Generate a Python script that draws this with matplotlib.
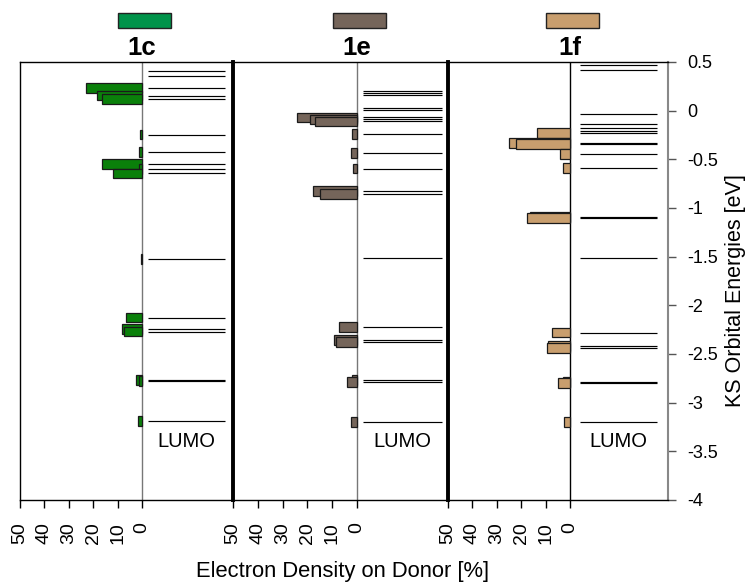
import matplotlib
matplotlib.use("Agg")
import matplotlib.pyplot as plt
from matplotlib.patches import Rectangle

plt.rcParams['font.family'] = ['Liberation Sans', 'DejaVu Sans']

# ---------------- data ----------------
panel_names = ["1c", "1e", "1f"]
bar_colors = ["#0a800a", "#75655a", "#c89e6e"]
box_colors = ["#00934a", "#75655a", "#c89e6e"]

levels_1c = [0.41, 0.36, 0.23, 0.155, 0.12, -0.245, -0.425, -0.545, -0.60, -0.645,
             -1.527, -2.125, -2.24, -2.27, -2.765, -2.78, -3.19]
dens_1c = [0, 0, 23.0, 18.4, 16.4, 1.0, 1.1, 16.4, 1.1, 11.8,
           0.4, 6.7, 8.1, 7.3, 2.5, 1.1, 1.5]

levels_1e = [0.205, 0.185, 0.16, 0.025, 0.003, -0.07, -0.09, -0.11, -0.237, -0.435,
             -0.595, -0.822, -0.855, -1.517, -2.225, -2.355, -2.38, -2.77, -2.79, -3.195]
dens_1e = [0, 0, 0, 0, 0, 24.3, 18.8, 16.8, 1.9, 2.3,
           1.5, 17.6, 14.8, 0, 7.4, 9.3, 8.5, 2.1, 4.0, 2.4]

levels_1f = [0.473, 0.418, -0.034, -0.137, -0.18, -0.205, -0.23, -0.33, -0.345, -0.442,
             -0.59, -1.09, -1.10, -1.51, -2.28, -2.42, -2.437, -2.785, -2.80, -3.195]
dens_1f = [0, 0, 0, 0, 0, 0, 13.7, 25.1, 22.1, 4.0,
           2.7, 16.4, 17.7, 0, 7.5, 9.0, 9.4, 2.7, 4.8, 2.3]

x_ticks = [50, 40, 30, 20, 10, 0]
y_ticks = [0.5, 0, -0.5, -1, -1.5, -2, -2.5, -3, -3.5, -4]
y_ticklabels = ["0.5", "0", "-0.5", "-1", "-1.5", "-2", "-2.5", "-3", "-3.5", "-4"]

all_levels = [levels_1c, levels_1e, levels_1f]
all_dens = [dens_1c, dens_1e, dens_1f]

# ---------------- layout (pixel based) ----------------
W, H = 750, 584
fig = plt.figure(figsize=(W / 100, H / 100), dpi=100)

ax_bottom_px, ax_top_px = 500, 62
# (left px, zero px, right px)
panels_px = [(20, 142, 233), (233, 357, 448), (448, 570, 668)]
line_spans = [(-2.5, -34.0), (-2.5, -34.3), (-4.0, -35.5)]

axes = []
for i, (lp, zp, rp) in enumerate(panels_px):
    scale = (zp - lp) / 50.0
    ax = fig.add_axes([lp / W, 1 - ax_bottom_px / H, (rp - lp) / W,
                       (ax_bottom_px - ax_top_px) / H])
    ax.set_xlim(50, -(rp - zp) / scale)
    ax.set_ylim(-4, 0.5)
    ax.patch.set_alpha(0)
    axes.append(ax)

    levels = all_levels[i]
    dens = all_dens[i]
    # zero line
    ax.axvline(0, color="#777777" if i < 2 else "#000000", lw=1.0, zorder=1)
    # bars
    bl = [l for l, d in zip(levels, dens) if d > 0]
    bd = [d for d in dens if d > 0]
    ax.barh(bl, bd, height=0.1, left=0, color=bar_colors[i],
            edgecolor="#1a1a1a", linewidth=0.9, zorder=2)
    # level lines
    x0, x1 = line_spans[i]
    ax.hlines(levels, x0, x1, color="#000000", lw=0.85, zorder=2)
    ax.text((x0 + x1) / 2, -3.40, "LUMO", ha="center", va="center", fontsize=14.5)

    # x ticks
    ax.set_xticks(x_ticks)
    ax.set_xticklabels([str(t) for t in x_ticks], rotation=90, fontsize=14)
    ax.tick_params(axis="x", direction="out", length=6, width=1, pad=10)
    ax.set_yticks([])

    for s in ["top", "bottom"]:
        ax.spines[s].set_linewidth(1.0)
        ax.spines[s].set_color("black")
    if i == 0:
        ax.spines["left"].set_linewidth(1.0)
    else:
        ax.spines["left"].set_visible(False)
    if i < 2:
        ax.spines["right"].set_linewidth(2.8)
        ax.spines["right"].set_color("black")

    # title and color box
    fig.text(zp / W, 1 - 55 / H, panel_names[i], ha="center", va="baseline",
             fontsize=18.5, fontweight="bold")
    bx0 = zp - 24.5
    fig.add_artist(Rectangle((bx0 / W, 1 - 28 / H), 53 / W, 15 / H,
                             transform=fig.transFigure, facecolor=box_colors[i],
                             edgecolor="#222222", linewidth=1.0))

ax3 = axes[2]
ax3.spines["right"].set_color("#888888")
ax3.spines["right"].set_linewidth(1.5)
ax3.yaxis.tick_right()
ax3.set_yticks(y_ticks)
ax3.set_yticklabels(y_ticklabels, fontsize=13)
ax3.tick_params(axis="y", direction="out", length=6, width=1, pad=8, color="#555555")

fig.text(343 / W, 1 - 571 / H, "Electron Density on Donor [%]", ha="center",
         va="center", fontsize=15.8)
fig.text(735 / W, 1 - 291 / H, "KS Orbital Energies [eV]", ha="center",
         va="center", rotation=90, fontsize=15.5)

fig.savefig("out.png", dpi=100)
